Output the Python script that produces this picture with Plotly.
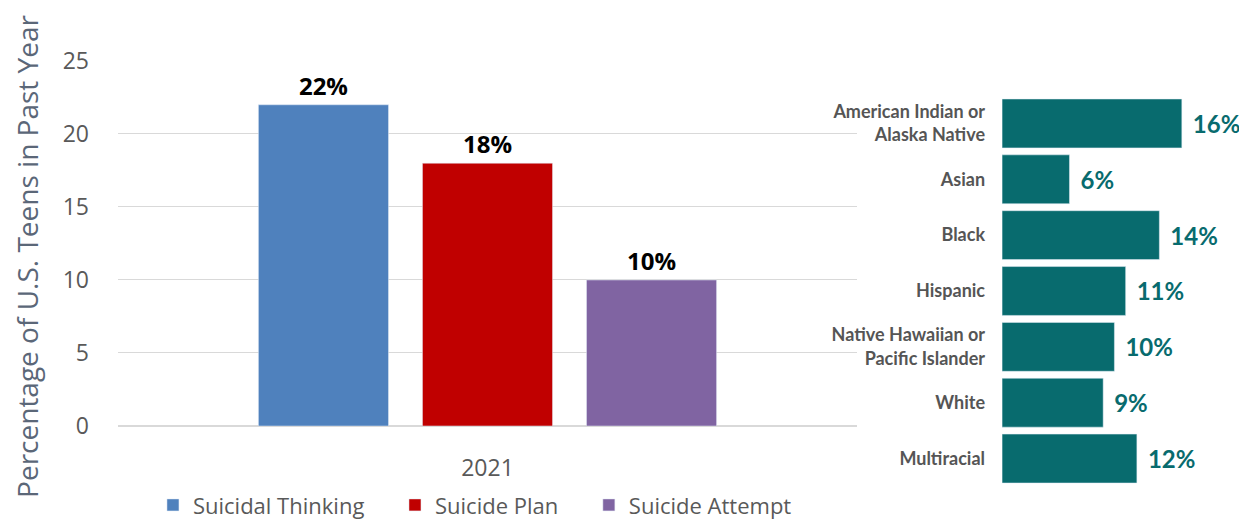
import plotly.graph_objects as go

# Left chart data
year = ["2021"]
series_names = ["Suicidal Thinking", "Suicide Plan", "Suicide Attempt"]
series_values = [22, 18, 10]
series_colors = ["#4f81bd", "#c00000", "#8064a2"]
y_title = "Percentage of U.S. Teens in Past Year"

# Right chart data
groups = ["American Indian or<br>Alaska Native", "Asian", "Black", "Hispanic",
          "Native Hawaiian or<br>Pacific Islander", "White", "Multiracial"]
group_values = [16, 6, 14, 11, 10, 9, 12]

legend_pad = ["\u2003\u2009", "\u2003\u2009", ""]

fig = go.Figure()

for name, val, col, pad in zip(series_names, series_values, series_colors, legend_pad):
    fig.add_trace(go.Bar(
        x=year, y=[val], name=name + pad, marker_color=col,
        text=[f"{val}%"], textposition="outside",
        textfont=dict(family="Open Sans", size=24, color="#000000", weight="bold"),
        cliponaxis=False, xaxis="x", yaxis="y",
    ))

fig.add_trace(go.Bar(
    y=groups, x=group_values, orientation="h", marker_color="#086b6e",
    width=0.875,
    text=[f"\u2004{v}%" for v in group_values], textposition="outside",
    textfont=dict(family="Lato", size=24, color="#086b6e", weight="bold"),
    cliponaxis=False, showlegend=False, xaxis="x2", yaxis="y2",
))

fig.update_layout(
    width=1239, height=513,
    margin=dict(l=0, r=0, t=0, b=0, autoexpand=False),
    plot_bgcolor="white", paper_bgcolor="white",
    barmode="group", bargap=0.334, bargroupgap=0.207,
    font=dict(family="Open Sans", color="#595959"),
    xaxis=dict(domain=[0.0888, 0.6852], showgrid=False, showline=False,
               tickfont=dict(size=23, color="#595959"), ticks="",
               ticklabelstandoff=26),
    yaxis=dict(domain=[0.1852, 0.8967], range=[0, 25], dtick=5,
               showgrid=True, gridcolor="#d9d9d9", zeroline=True, zerolinecolor="#d9d9d9",
               tickfont=dict(size=23, color="#595959"), ticklabelstandoff=28),
    xaxis2=dict(domain=[0.8023, 1.0], range=[0, 21.8], visible=False, anchor="y2"),
    yaxis2=dict(domain=[0.0673, 0.8294], anchor="x2", autorange="reversed",
                showgrid=False, ticks="", ticklabelstandoff=16,
                tickfont=dict(family="Lato", size=18, color="#555555", weight="bold")),
    legend=dict(orientation="h", x=0.117, xanchor="left", y=-0.01, yanchor="bottom",
                font=dict(size=22, color="#595959"), traceorder="normal"),
    annotations=[dict(text=y_title, textangle=-90, xref="paper", yref="paper",
                      x=0.0153, y=0.5166, xanchor="center", yanchor="middle",
                      borderpad=0, showarrow=False, font=dict(size=28, color="#5b6778"))],
)

fig.write_html("out.html")
